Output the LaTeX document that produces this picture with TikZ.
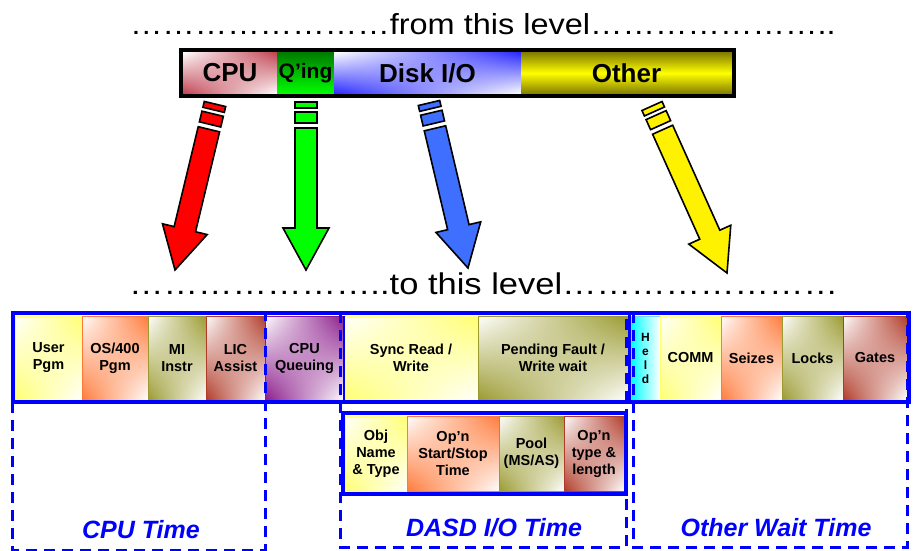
\documentclass[tikz,border=0pt]{standalone}
\usepackage{fontspec}
\setmainfont{Liberation Sans}
\usepackage{graphicx}
\usetikzlibrary{calc,shadings}
\definecolor{bblue}{HTML}{0000FF}
\definecolor{ylw}{HTML}{FFFF70}
\definecolor{org}{HTML}{FF7A3A}
\definecolor{olv}{HTML}{9A9A30}
\definecolor{brn}{HTML}{B03A28}
\definecolor{pur}{HTML}{8A1A8A}
\definecolor{cpured}{HTML}{C04050}
\definecolor{dgreen}{HTML}{007A00}
\definecolor{arrblue}{HTML}{3F6FFF}
\definecolor{darkolive}{HTML}{807A00}
\definecolor{diskblue}{HTML}{2828FF}
\newcommand{\dotsE}{…}
\newcommand{\blockarrow}[3]{%
  \filldraw[arrowpart, fill=#3]
    ($(#1)!11pt!90:(#2)$) -- ($(#1)!6pt!(#2)!11pt!90:(#2)$) --
    ($(#1)!6pt!(#2)!11pt!-90:(#2)$) -- ($(#1)!11pt!-90:(#2)$) -- cycle;
  \filldraw[arrowpart, fill=#3]
    ($(#1)!10pt!(#2)!11pt!90:(#2)$) -- ($(#1)!21pt!(#2)!11pt!90:(#2)$) --
    ($(#1)!21pt!(#2)!11pt!-90:(#2)$) -- ($(#1)!10pt!(#2)!11pt!-90:(#2)$) -- cycle;
  \filldraw[arrowpart, fill=#3]
    ($(#1)!26pt!(#2)!11pt!90:(#2)$) --
    ($(#2)!42pt!(#1)!11pt!-90:(#1)$) --
    ($(#2)!42pt!(#1)!23pt!-90:(#1)$) --
    (#2) --
    ($(#2)!42pt!(#1)!23pt!90:(#1)$) --
    ($(#2)!42pt!(#1)!11pt!90:(#1)$) --
    ($(#1)!26pt!(#2)!11pt!-90:(#2)$) -- cycle;
}
\begin{document}
\begin{tikzpicture}[x=1pt,y=-1pt,
  every node/.style={inner sep=0pt, outer sep=0pt},
  cellfont/.style={font=\fontsize{14.5}{17}\selectfont\bfseries},
  barfont/.style={font=\fontsize{26}{30}\selectfont\bfseries},
  diag/.style={shade, upper left=white, upper right=#1, lower left=#1, lower right=white},
  cell/.style={diag=#1, draw=#1, line width=0.8pt, cellfont, align=center},
  arrowpart/.style={draw=black, line width=1.6pt, line join=miter},
  dashbox/.style={draw=bblue, line width=3pt, dash pattern=on 11pt off 7pt},
  solidbox/.style={draw=bblue, line width=4pt},
  lbl/.style={text=bblue, font=\fontsize{25}{30}\selectfont\bfseries\itshape, anchor=base}
]
\useasboundingbox (0,0) rectangle (914,550);

% headline texts
\node[anchor=base west] (fromlvl) at (130,34)
  {\fontsize{29}{34}\selectfont\scalebox{1.12}[1]{\dotsE\dotsE\dotsE\dotsE\dotsE\dotsE\dotsE\dotsE from this level\dotsE\dotsE\dotsE\dotsE\dotsE\dotsE\dotsE..}};

% top bar
\node[diag=cpured, minimum width=94pt, minimum height=42pt, barfont] (cpu) at (230,73) {CPU};
\node[shade, top color=dgreen, bottom color=green, minimum width=57pt, minimum height=42pt,
  font=\fontsize{21}{24}\selectfont\bfseries] (qing) at (305.5,73) {Q’ing};
\node[diag=diskblue, minimum width=187pt, minimum height=42pt, barfont] (disk) at (427.5,73) {Disk I/O};
\node[shade, top color=darkolive, bottom color=darkolive, middle color=yellow,
  minimum width=211pt, minimum height=42pt, barfont] (other) at (626.5,73) {Other};
\draw[line width=4pt] (181,50) rectangle (734,96);

% block arrows
\coordinate (rs) at (215,104); \coordinate (rt) at (175,270);
\coordinate (gs) at (306,102); \coordinate (gt) at (306,270);
\coordinate (bs) at (429,103); \coordinate (bt) at (468,268);
\coordinate (ys) at (652,106); \coordinate (yt) at (727,273);
\blockarrow{rs}{rt}{red}
\blockarrow{gs}{gt}{green}
\blockarrow{bs}{bt}{arrblue}
\blockarrow{ys}{yt}{yellow}

\node[anchor=base west] (tolvl) at (129,294)
  {\fontsize{30}{35}\selectfont\scalebox{1.15}[1]{\dotsE\dotsE\dotsE\dotsE\dotsE\dotsE\dotsE..to this level\dotsE\dotsE\dotsE\dotsE\dotsE\dotsE\dotsE\dotsE}};

% detail row
\node[cell=ylw, minimum width=67pt, minimum height=84pt] (user) at (48.5,358) {User\\Pgm};
\node[cell=org, minimum width=66pt, minimum height=84pt] (os) at (115,358) {OS/400\\Pgm};
\node[cell=olv, minimum width=58pt, minimum height=84pt] (mi) at (177,358) {MI\\Instr};
\node[cell=brn, minimum width=59pt, minimum height=84pt] (lic) at (235.5,358) {LIC\\Assist};
\node[cell=pur, minimum width=79pt, minimum height=84pt] (cpuq) at (304.5,358) {CPU\\Queuing};
\node[cell=ylw, minimum width=134pt, minimum height=84pt] (sync) at (411,358) {Sync Read /\\Write};
\node[cell=olv, minimum width=150pt, minimum height=84pt] (pend) at (553,358) {Pending Fault /\\Write wait};
\node[shade, left color=cyan, right color=white, draw=cyan!50, line width=0.8pt,
  minimum width=29pt, minimum height=84pt, align=center,
  font=\fontsize{12}{14}\selectfont\bfseries] (held) at (645.5,358) {H\\e\\l\\d};
\node[cell=ylw, minimum width=61pt, minimum height=84pt] (comm) at (690.5,358) {COMM};
\node[cell=org, minimum width=61pt, minimum height=84pt] (seiz) at (751.5,358) {Seizes};
\node[cell=olv, minimum width=61pt, minimum height=84pt] (locks) at (812.5,358) {Locks};
\node[cell=brn, minimum width=64pt, minimum height=84pt] (gates) at (875,358) {Gates};

% DASD detail row
\node[cell=ylw, minimum width=62pt, minimum height=75pt] (obj) at (376,453.5) {Obj\\Name\\\& Type};
\node[cell=org, minimum width=92pt, minimum height=75pt] (opss) at (453,453.5) {Op'n\\Start/Stop\\Time};
\node[cell=olv, minimum width=65pt, minimum height=75pt] (pool) at (531.5,453.5) {Pool\\(MS/AS)};
\node[cell=brn, minimum width=60pt, minimum height=75pt] (optl) at (594,453.5) {Op'n\\type \&\\length};

% dashed groups
\draw[dashbox] (12,312) rectangle (265,550);
\draw[dashbox] (340,312) rectangle (626,547);
\draw[dashbox] (633,312) rectangle (907,547);

% solid frames
\draw[solidbox] (13,313) rectangle (909,402);
\draw[draw=bblue, line width=1.2pt] (sync.north west) -- (sync.south west);
\draw[draw=bblue, line width=3pt] (629.5,313) -- (629.5,402);
\draw[solidbox] (343,413) rectangle (626,494);

% group labels
\node[lbl] (cputime) at (141,538) {CPU Time};
\node[lbl] (dasdtime) at (494,536) {DASD I/O Time};
\node[lbl] (othertime) at (776,536) {Other Wait Time};
\end{tikzpicture}
\end{document}
